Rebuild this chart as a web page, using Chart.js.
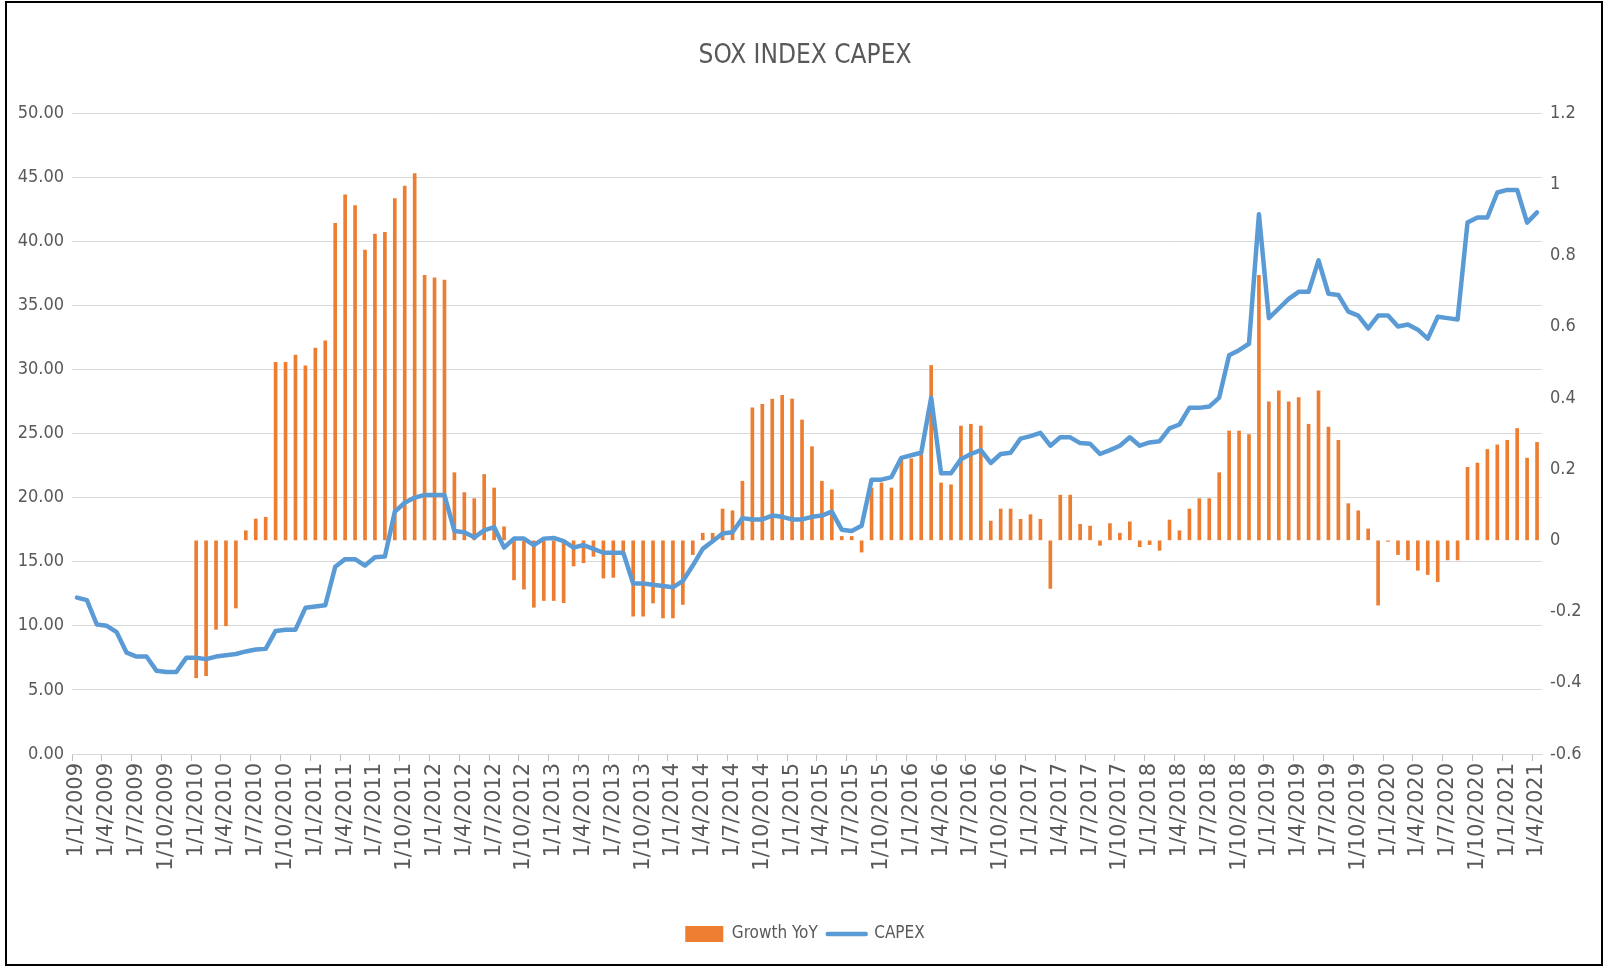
<!DOCTYPE html>
<html>
<head>
<meta charset="utf-8">
<title>SOX INDEX CAPEX</title>
<script src="https://cdn.jsdelivr.net/npm/chart.js@4.4.1/dist/chart.umd.min.js"></script>
<style>
  html, body { margin: 0; padding: 0; background: #fff; }
  #wrap { position: relative; width: 1610px; height: 968px; }
  #frame { position: absolute; left: 5px; top: 1px; width: 1598px; height: 965px;
           border: 2px solid #000; box-sizing: border-box; pointer-events: none; }
</style>
</head>
<body>
<div id="wrap">
  <canvas id="chart" width="1610" height="968"></canvas>
  <div id="frame"></div>
</div>
<script>
(function () {
  'use strict';

  // month labels, d/m/yyyy, Jan 2009 .. Apr 2021
  var firstYear = 2009;
  var monthCount = 148;
  var months = [];
  for (var k = 0; k < monthCount; k++) {
    months.push('1/' + (k % 12 + 1) + '/' + (firstYear + Math.floor(k / 12)));
  }

  // CAPEX (left axis)
  var capex = [
    12.2, 12.0, 10.1, 10.0, 9.5, 7.9, 7.6, 7.6, 6.5, 6.4, 6.4, 7.5,
    7.5, 7.4, 7.6, 7.7, 7.8, 8.0, 8.15, 8.2, 9.6, 9.7, 9.7, 11.4,
    11.5, 11.6, 14.6, 15.2, 15.2, 14.7, 15.35, 15.4, 18.9, 19.6, 20.0, 20.2,
    20.2, 20.2, 17.4, 17.3, 16.9, 17.45, 17.7, 16.1, 16.8, 16.8, 16.3, 16.8,
    16.85, 16.6, 16.1, 16.3, 16.0, 15.7, 15.7, 15.7, 13.3, 13.3, 13.2, 13.1,
    13.0, 13.5, 14.7, 16.0, 16.6, 17.2, 17.3, 18.4, 18.3, 18.3, 18.6, 18.5,
    18.3, 18.3, 18.5, 18.6, 18.9, 17.5, 17.4, 17.8, 21.4, 21.4, 21.6, 23.1,
    23.3, 23.5, 27.8, 21.9, 21.9, 23.0, 23.4, 23.7, 22.7, 23.4, 23.5, 24.6,
    24.8, 25.05, 24.05, 24.7, 24.7, 24.25, 24.2, 23.4, 23.7, 24.05, 24.7, 24.05,
    24.3, 24.4, 25.4, 25.7, 27.0, 27.0, 27.1, 27.8, 31.1, 31.5, 32.0, 42.1,
    34.0, 34.75, 35.5, 36.05, 36.05, 38.5, 35.9, 35.8, 34.5, 34.2, 33.2, 34.2,
    34.2, 33.35, 33.5, 33.1, 32.4, 34.1, 34.0, 33.9, 41.45, 41.85, 41.85, 43.8,
    44.0, 44.0, 41.45, 42.25
  ];

  // Growth YoY (right axis), none for the first year
  var growthYoY = [
    null, null, null, null, null, null, null, null, null, null, null, null,
    -0.386, -0.38, -0.25, -0.24, -0.19, 0.027, 0.06, 0.065, 0.50, 0.50, 0.52, 0.49,
    0.54, 0.56, 0.89, 0.97, 0.94, 0.815, 0.86, 0.865, 0.96, 0.995, 1.03, 0.744,
    0.737, 0.731, 0.19, 0.134, 0.117, 0.185, 0.147, 0.038, -0.111, -0.137, -0.188, -0.169,
    -0.169, -0.175, -0.072, -0.063, -0.045, -0.106, -0.104, -0.04, -0.213, -0.213, -0.176, -0.218,
    -0.218, -0.18, -0.04, 0.02, 0.02, 0.088, 0.083, 0.166, 0.372, 0.382, 0.397, 0.407,
    0.397, 0.338, 0.263, 0.166, 0.142, 0.011, 0.011, -0.033, 0.147, 0.161, 0.147, 0.229,
    0.229, 0.239, 0.491, 0.161, 0.156, 0.321, 0.326, 0.321, 0.054, 0.088, 0.088, 0.059,
    0.072, 0.059, -0.135, 0.127, 0.127, 0.045, 0.040, -0.014, 0.047, 0.020, 0.052, -0.018,
    -0.012, -0.028, 0.057, 0.027, 0.088, 0.117, 0.117, 0.19, 0.307, 0.307, 0.297, 0.744,
    0.389, 0.42, 0.389, 0.401, 0.326, 0.42, 0.318, 0.281, 0.103, 0.083, 0.032, -0.182,
    -0.003, -0.04, -0.055, -0.084, -0.096, -0.116, -0.055, -0.055, 0.205, 0.217, 0.255, 0.268,
    0.281, 0.314, 0.231, 0.275
  ];

  var NARROW = '"Liberation Sans Narrow", "DejaVu Sans Condensed", "Arial Narrow", sans-serif';
  var TEXT = '#595959';
  var GRID = '#d9d9d9';
  var ORANGE = '#ED7D31';
  var BLUE = '#5B9BD5';

  var canvas = document.getElementById('chart');

  new Chart(canvas.getContext('2d'), {
    type: 'bar',
    data: {
      labels: months,
      datasets: [
        {
          type: 'bar',
          label: 'Growth YoY',
          data: growthYoY,
          yAxisID: 'y1',
          backgroundColor: ORANGE,
          borderWidth: 0,
          barThickness: 3,
          order: 1,
        },
        {
          type: 'line',
          label: 'CAPEX',
          data: capex,
          yAxisID: 'y',
          borderColor: BLUE,
          backgroundColor: BLUE,
          borderWidth: 4.5,
          pointRadius: 0,
          tension: 0,
          borderJoinStyle: 'round',
          borderCapStyle: 'round',
          order: 0,
        },
      ],
    },
    options: {
      responsive: false,
      animation: false,
      layout: { padding: { left: 0, right: 0, top: 0, bottom: 15.5 } },
      plugins: {
        title: {
          display: true,
          text: 'SOX INDEX CAPEX',
          color: TEXT,
          font: { family: NARROW, size: 26, weight: 'normal' },
          padding: { top: 41, bottom: 40.8 },
        },
        legend: {
          position: 'bottom',
          labels: {
            color: TEXT,
            font: { family: NARROW, size: 17 },
            usePointStyle: true,
            pointStyleWidth: 38,
            boxHeight: 16,
            padding: 10,
            sort: function (a, b) { return a.datasetIndex - b.datasetIndex; },
            generateLabels: function (chart) {
              var items = Chart.defaults.plugins.legend.labels.generateLabels(chart);
              items.forEach(function (it) {
                if (it.datasetIndex === 0) {
                  it.pointStyle = 'rect';
                  it.fillStyle = ORANGE;
                  it.strokeStyle = ORANGE;
                  it.lineWidth = 0;
                } else {
                  it.pointStyle = 'line';
                  it.strokeStyle = BLUE;
                  it.lineWidth = 4.5;
                  it.lineCap = 'round';
                }
              });
              return items;
            },
          },
        },
        tooltip: { enabled: false },
      },
      scales: {
        x: {
          grid: {
            display: true,
            drawOnChartArea: false,
            drawTicks: true,
            tickLength: 7,
            tickColor: function (c) { return c.index % 3 === 0 ? '#bfbfbf' : 'rgba(0,0,0,0)'; },
          },
          border: { display: true, color: GRID },
          ticks: {
            autoSkip: false,
            minRotation: 90,
            maxRotation: 90,
            padding: 2,
            color: TEXT,
            font: { family: '"DejaVu Sans", sans-serif', size: 21 },
            callback: function (val, idx) {
              return idx % 3 === 0 ? this.getLabelForValue(val) : '';
            },
          },
          afterFit: function (s) { s.height = 161.5; },
        },
        y: {
          position: 'left',
          min: 0,
          max: 50,
          grid: { color: GRID, lineWidth: 1, drawTicks: false },
          border: { display: false },
          ticks: {
            stepSize: 5,
            padding: 8,
            color: TEXT,
            font: { family: NARROW, size: 18 },
            callback: function (v) { return Number(v).toFixed(2); },
          },
          afterFit: function (s) { s.width = 72; },
        },
        y1: {
          position: 'right',
          min: -0.6,
          max: 1.2,
          grid: { drawOnChartArea: false, drawTicks: false },
          border: { display: false },
          ticks: {
            stepSize: 0.2,
            padding: 8,
            color: TEXT,
            font: { family: NARROW, size: 18 },
            callback: function (v) { return String(Math.round(v * 10) / 10); },
          },
          afterFit: function (s) { s.width = 68; },
        },
      },
    },
  });
})();
</script>
</body>
</html>
